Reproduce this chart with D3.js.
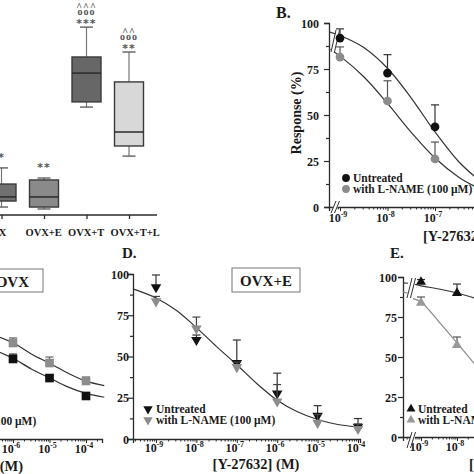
<!DOCTYPE html>
<html><head><meta charset="utf-8">
<script src="https://cdn.jsdelivr.net/npm/d3@7"></script>
<style>body{margin:0;background:#fff}svg{display:block}</style>
</head><body><svg id="c" width="474" height="474"></svg>
<script>
// ---------- DATA ----------
// Panel A (box plot)
const boxCategories = ["OVX", "OVX+E", "OVX+T", "OVX+T+L"];
const boxMin    = [0.37, 0.28, 5.02, 2.74];
const boxQ1     = [0.65, 0.37, 5.26, 3.21];
const boxMedian = [0.84, 0.84, 6.60, 3.86];
const boxQ3     = [1.44, 1.63, 7.35, 6.19];
const boxMax    = [2.19, 1.72, 8.74, 7.58];
const boxSig    = [["*"], ["**"], ["***", "ooo", "^^^"], ["**", "ooo", "^^"]];
const boxFill   = ["#707070", "#8a8a8a", "#676767", "#d8d8d8"];

// Panel B
const bConc = [1e-9, 1e-8, 1e-7];
const bUntreated = [91.8, 72.8, 43.5];
const bUntreatedErr = [5, 10, 12];
const bLName = [81.5, 57.6, 26.1];
const bLNameErr = [5.5, 11, 9.2];
const bFitLogX = [-9.23, -9, -8.5, -8, -7.5, -7, -6.5, -6.1];
const bFitUntreated = [95.2, 93.2, 86.7, 75.4, 59.2, 40.8, 24.6, 15.2];
const bFitLName = [86, 82, 70.8, 56.3, 40.6, 26.6, 16.2, 10.4];

// Panel C (OVX)
const cConc = [1e-6, 1e-5, 1e-4];
const cUntreated = [49.1, 37.4, 26.4];
const cUntreatedErr = [3, 1.5, 1.5];
const cLName = [58.9, 46.6, 35.6];
const cLNameErr = [3.1, 3.7, 2.4];
const cFitLogX = [-6.45, -6, -5.5, -5, -4.5, -4, -3.5];
const cFitUntreated = [54, 49.5, 43, 37.5, 32, 28, 25.6];
const cFitLName = [63.2, 59, 52.2, 46.5, 40.5, 35.5, 32.8];

// Panel D (OVX+E)
const dConc = [1e-9, 1e-8, 1e-7, 1e-6, 1e-5, 1e-4];
const dUntreated = [92, 60, 46, 27.6, 14, 7.4];
const dUntreatedErr = [7.4, 3, 14, 12.3, 6.2, 5];
const dLName = [83.4, 66.9, 43.6, 22.7, 9.8, 6.1];
const dLNameErr = [3, 7, 3, 10.3, 5, 3];
const dFitLogX = [-9.57, -9, -8.5, -8, -7.5, -7, -6.5, -6, -5.5, -5, -4.5, -4, -3.95];
const dFit = [91, 85.5, 78, 67.5, 56, 45, 33.5, 23.5, 16.5, 11.8, 8.8, 7.3, 7.2];

// Panel E
const eConc = [1e-9, 1e-8];
const eUntreated = [96.9, 90];
const eUntreatedErr = [1.5, 5.6];
const eLName = [83.8, 57.5];
const eLNameErr = [3.7, 5];
const eFitPreLogX = [-9.5, -9.36];
const eFitPreUntreated = [96.3, 96.1];
const eFitPreLName = [90.8, 89.8];
const eFitLogX = [-9.22, -9, -8.5, -8, -7.5];
const eFitUntreated = [95.6, 94.5, 92.5, 90, 86.8];
const eFitLName = [86.5, 84.4, 72, 58.8, 45.3];

const yTicks = [0, 12.5, 25, 37.5, 50, 62.5, 75, 87.5, 100];
const legendLabels = ["Untreated", "with L-NAME (100 \u03bcM)"];
const xTitle = "[Y-27632] (M)";
const yTitle = "Response (%)";

// ---------- DRAW ----------
const svg = d3.select("#c");
const F = "'Liberation Serif','Times New Roman',serif";
const INK = "#2b2b2b";
const BLACK = "#111", GRAY = "#8c8c8c";

function txt(g, x, y, s, size, anchor, fill) {
  return g.append("text").attr("x", x).attr("y", y)
    .attr("font-family", F).attr("font-weight", "bold").attr("font-size", size)
    .attr("text-anchor", anchor || "start").attr("fill", fill || "#1a1a1a").text(s);
}

// ===== Panel A =====
(function () {
  const g = svg.append("g");
  const x = d3.scalePoint().domain(boxCategories).range([1.5, 129]);
  const y = d3.scaleLinear().domain([0, 10]).range([215, 0]);
  const ax = g.append("g").attr("transform", "translate(0,215)")
    .call(d3.axisBottom(x).tickSize(4).tickSizeOuter(0).tickFormat(""));
  ax.select(".domain").remove();
  ax.selectAll("line").attr("stroke", INK).attr("stroke-width", 1.3);
  g.append("line").attr("x1", 0).attr("x2", 157).attr("y1", 215).attr("y2", 215)
    .attr("stroke", INK).attr("stroke-width", 1.5);
  const w = 29, cap = 13;
  boxCategories.forEach((c, i) => {
    const cx = x(c);
    g.append("line").attr("x1", cx).attr("x2", cx).attr("y1", y(boxQ3[i])).attr("y2", y(boxMax[i]))
      .attr("stroke", "#777").attr("stroke-width", 1.2);
    g.append("line").attr("x1", cx).attr("x2", cx).attr("y1", y(boxQ1[i])).attr("y2", y(boxMin[i]))
      .attr("stroke", "#777").attr("stroke-width", 1.2);
    [boxMax[i], boxMin[i]].forEach(v => g.append("line").attr("x1", cx - cap / 2).attr("x2", cx + cap / 2)
      .attr("y1", y(v)).attr("y2", y(v)).attr("stroke", "#555").attr("stroke-width", 1.3));
    g.append("rect").attr("x", cx - w / 2).attr("y", y(boxQ3[i])).attr("width", w)
      .attr("height", y(boxQ1[i]) - y(boxQ3[i])).attr("fill", boxFill[i])
      .attr("stroke", "#3a3a3a").attr("stroke-width", 1.4);
    g.append("line").attr("x1", cx - w / 2).attr("x2", cx + w / 2).attr("y1", y(boxMedian[i])).attr("y2", y(boxMedian[i]))
      .attr("stroke", "#2a2a2a").attr("stroke-width", 1.5);
    const first = boxSig[i].length === 1 ? 13 : 6;
    boxSig[i].forEach((s, k) => {
      const cy = y(boxMax[i]) - first - k * 9;
      const isStar = s[0] === "*";
      const t = g.append("text").attr("x", cx).attr("text-anchor", "middle")
        .attr("font-family", isStar ? "'DejaVu Sans',sans-serif" : F)
        .attr("font-weight", "bold").attr("fill", "#555")
        .attr("letter-spacing", 1)
        .attr("font-size", isStar ? 11 : (s[0] === "o" ? 10 : 10)).text(s);
      if (isStar) t.attr("y", cy + 6);
      else if (s[0] === "o") t.attr("y", cy + 3);
      else t.attr("y", cy + 7);
    });
    txt(g, cx - 18.5, 236, c, 10.5, "start");
  });
})();

// ===== generic dose-response panel =====
function symbolPath(kind, size) {
  const t = kind === "circle" ? d3.symbolCircle : kind === "square" ? d3.symbolSquare : d3.symbolTriangle;
  return d3.symbol().type(t).size(size)();
}

function panel(o) {
  const g = svg.append("g");
  const base = d3.scaleLog().domain(o.xRef).range(o.xRefPx);
  const x = d3.scaleLog().domain([base.invert(o.xAxis[0]), base.invert(o.xAxis[1])]).range(o.xAxis);
  const y = d3.scaleLinear().domain([0, 100]).range(o.yPx);
  if (o.showY) {
    const ya = g.append("g").attr("transform", `translate(${o.xAxis[0]},0)`)
      .call(d3.axisLeft(y).tickValues(yTicks).tickSizeOuter(0).tickSize(5)
        .tickFormat(d => d % 25 === 0 ? d : ""));
    ya.select(".domain").attr("stroke", INK).attr("stroke-width", 1.3);
    ya.selectAll(".tick line").attr("stroke", INK).attr("stroke-width", 1.2)
      .attr("x2", d => d % 25 === 0 ? -5 : -3);
    ya.selectAll(".tick text").attr("font-family", F).attr("font-weight", "bold")
      .attr("font-size", 12).attr("fill", "#1a1a1a").attr("x", -o.yLabGap).attr("dy", "0.35em");
  }
  const tickVals = x.ticks().filter(v => x(v) >= o.xAxis[0] + 1 && x(v) <= o.xAxis[1]);
  const xa = g.append("g").attr("transform", `translate(0,${o.yPx[0]})`)
    .call(d3.axisBottom(x).tickValues(tickVals).tickSizeOuter(0).tickSize(4).tickFormat(""));
  xa.select(".domain").attr("stroke", INK).attr("stroke-width", 1.3);
  xa.selectAll(".tick line").attr("stroke", INK).attr("stroke-width", 1)
    .attr("y2", d => Math.abs(Math.log10(d) - Math.round(Math.log10(d))) < 1e-6 ? 4 : 2.5);
  tickVals.filter(v => Math.abs(Math.log10(v) - Math.round(Math.log10(v))) < 1e-6).forEach(v => {
    const e = Math.round(Math.log10(v));
    const t = g.append("text").attr("x", x(v) - 2).attr("y", o.yPx[0] + o.tickLabDy)
      .attr("font-family", F).attr("font-weight", "bold").attr("font-size", 12)
      .attr("text-anchor", "middle").attr("fill", "#1a1a1a");
    t.append("tspan").text("10");
    t.append("tspan").attr("font-size", 8).attr("dy", -5).text("-" + Math.abs(e));
  });
  const line = d3.line().x(d => x(Math.pow(10, d[0]))).y(d => y(d[1])).curve(d3.curveCatmullRom);
  o.curves.forEach(cv => {
    g.append("path").attr("d", line(cv.lx.map((v, i) => [v, cv.v[i]])))
      .attr("fill", "none").attr("stroke", cv.color || "#333").attr("stroke-width", 1.2);
  });
  (o.breaks || []).forEach(b => {
    g.append("line").attr("x1", b[0] - 1).attr("y1", b[2]).attr("x2", b[0] + 6).attr("y2", b[1])
      .attr("stroke", "#fff").attr("stroke-width", 4);
    [0, 3.5].forEach(dx => g.append("line").attr("x1", b[0] - 2 + dx).attr("y1", b[2])
      .attr("x2", b[0] + 3 + dx).attr("y2", b[1]).attr("stroke", "#333").attr("stroke-width", 1));
  });
  o.series.forEach(s => {
    s.conc.forEach((c, i) => {
      const px = x(c), py = y(s.v[i]), pt = y(s.v[i] + s.err[i]);
      g.append("line").attr("x1", px).attr("x2", px).attr("y1", py).attr("y2", pt)
        .attr("stroke", s.errColor).attr("stroke-width", 1.2);
      g.append("line").attr("x1", px - 4).attr("x2", px + 4).attr("y1", pt).attr("y2", pt)
        .attr("stroke", s.errColor).attr("stroke-width", 1.2);
    });
    s.conc.forEach((c, i) => {
      g.append("path").attr("d", symbolPath(o.shape, o.size))
        .attr("transform", `translate(${x(c)},${y(s.v[i])})${o.flip ? " rotate(180)" : ""}`)
        .attr("fill", s.color);
    });
  });
  if (o.legend) {
    o.series.forEach((s, i) => {
      const ly = o.legend[1] + i * 11;
      g.append("path").attr("d", symbolPath(o.shape, o.size * 0.8))
        .attr("transform", `translate(${o.legend[0]},${ly - 4})${o.flip ? " rotate(180)" : ""}`)
        .attr("fill", s.color);
      txt(g, o.legend[2], ly, legendLabels[i], 11.5, "start");
    });
  }
  return g;
}

// Panel B
panel({
  xRef: [1e-9, 1e-8], xRefPx: [340, 387.5], xAxis: [329, 482], yPx: [207, 23],
  showY: true, yLabGap: 10, tickLabDy: 15,
  shape: "circle", size: 60,
  curves: [{ lx: bFitLogX, v: bFitUntreated }, { lx: bFitLogX, v: bFitLName }],
  breaks: [[333, 201, 213], [333, 30, 52]],
  series: [
    { conc: bConc, v: bUntreated, err: bUntreatedErr, color: BLACK, errColor: "#333" },
    { conc: bConc, v: bLName, err: bLNameErr, color: GRAY, errColor: "#555" }
  ],
  legend: [346, 182, 353]
});
txt(svg, 276, 18, "B.", 16);
svg.append("text").attr("transform", "translate(301,113) rotate(-90)")
  .attr("font-family", F).attr("font-weight", "bold").attr("font-size", 14)
  .attr("text-anchor", "middle").attr("fill", "#1a1a1a").text(yTitle);
txt(svg, 423, 241, xTitle, 14.5, "start");

// Panel C
panel({
  xRef: [1e-6, 1e-4], xRefPx: [13, 86], xAxis: [-3, 102], yPx: [439, 276],
  showY: false, tickLabDy: 14,
  shape: "square", size: 75,
  curves: [{ lx: cFitLogX, v: cFitUntreated }, { lx: cFitLogX, v: cFitLName }],
  series: [
    { conc: cConc, v: cUntreated, err: cUntreatedErr, color: BLACK, errColor: "#333" },
    { conc: cConc, v: cLName, err: cLNameErr, color: GRAY, errColor: "#666" }
  ],
  legend: [-90, 414, -83]
});
svg.append("rect").attr("x", -10).attr("y", 269).attr("width", 53).attr("height", 23)
  .attr("fill", "#fff").attr("stroke", "#777").attr("stroke-width", 1);
txt(svg, 29, 287, "OVX", 15, "end");
txt(svg, 23, 471, xTitle, 14.5, "end");

// Panel D
panel({
  xRef: [1e-9, 1e-4], xRefPx: [156, 358], xAxis: [133, 360], yPx: [439, 274],
  showY: true, yLabGap: 4, tickLabDy: 13,
  shape: "triangle", size: 48, flip: true,
  curves: [{ lx: dFitLogX, v: dFit }],
  series: [
    { conc: dConc, v: dUntreated, err: dUntreatedErr, color: BLACK, errColor: "#333" },
    { conc: dConc, v: dLName, err: dLNameErr, color: GRAY, errColor: "#444" }
  ],
  legend: [148, 413, 156]
});
txt(svg, 122, 258, "D.", 15);
svg.append("rect").attr("x", 232).attr("y", 268).attr("width", 68).attr("height", 24)
  .attr("fill", "#fff").attr("stroke", "#777").attr("stroke-width", 1);
txt(svg, 266, 286, "OVX+E", 15, "middle");
txt(svg, 256, 469, xTitle, 14.5, "middle");

// Panel E
panel({
  xRef: [1e-9, 1e-8], xRefPx: [421, 457], xAxis: [403, 482], yPx: [437, 277],
  showY: true, yLabGap: 6, tickLabDy: 14,
  shape: "triangle", size: 44,
  curves: [
    { lx: eFitPreLogX, v: eFitPreUntreated }, { lx: eFitLogX, v: eFitUntreated },
    { lx: eFitPreLogX, v: eFitPreLName, color: "#8a8a8a" }, { lx: eFitLogX, v: eFitLName, color: "#8a8a8a" }
  ],
  breaks: [[409, 432, 448], [409, 278, 298]],
  series: [
    { conc: eConc, v: eUntreated, err: eUntreatedErr, color: BLACK, errColor: "#333" },
    { conc: eConc, v: eLName, err: eLNameErr, color: "#999", errColor: "#555" }
  ],
  legend: [411, 413, 418]
});
txt(svg, 390, 258, "E.", 15);
txt(svg, 469, 469, xTitle, 14.5, "start");
</script>
</body></html>
